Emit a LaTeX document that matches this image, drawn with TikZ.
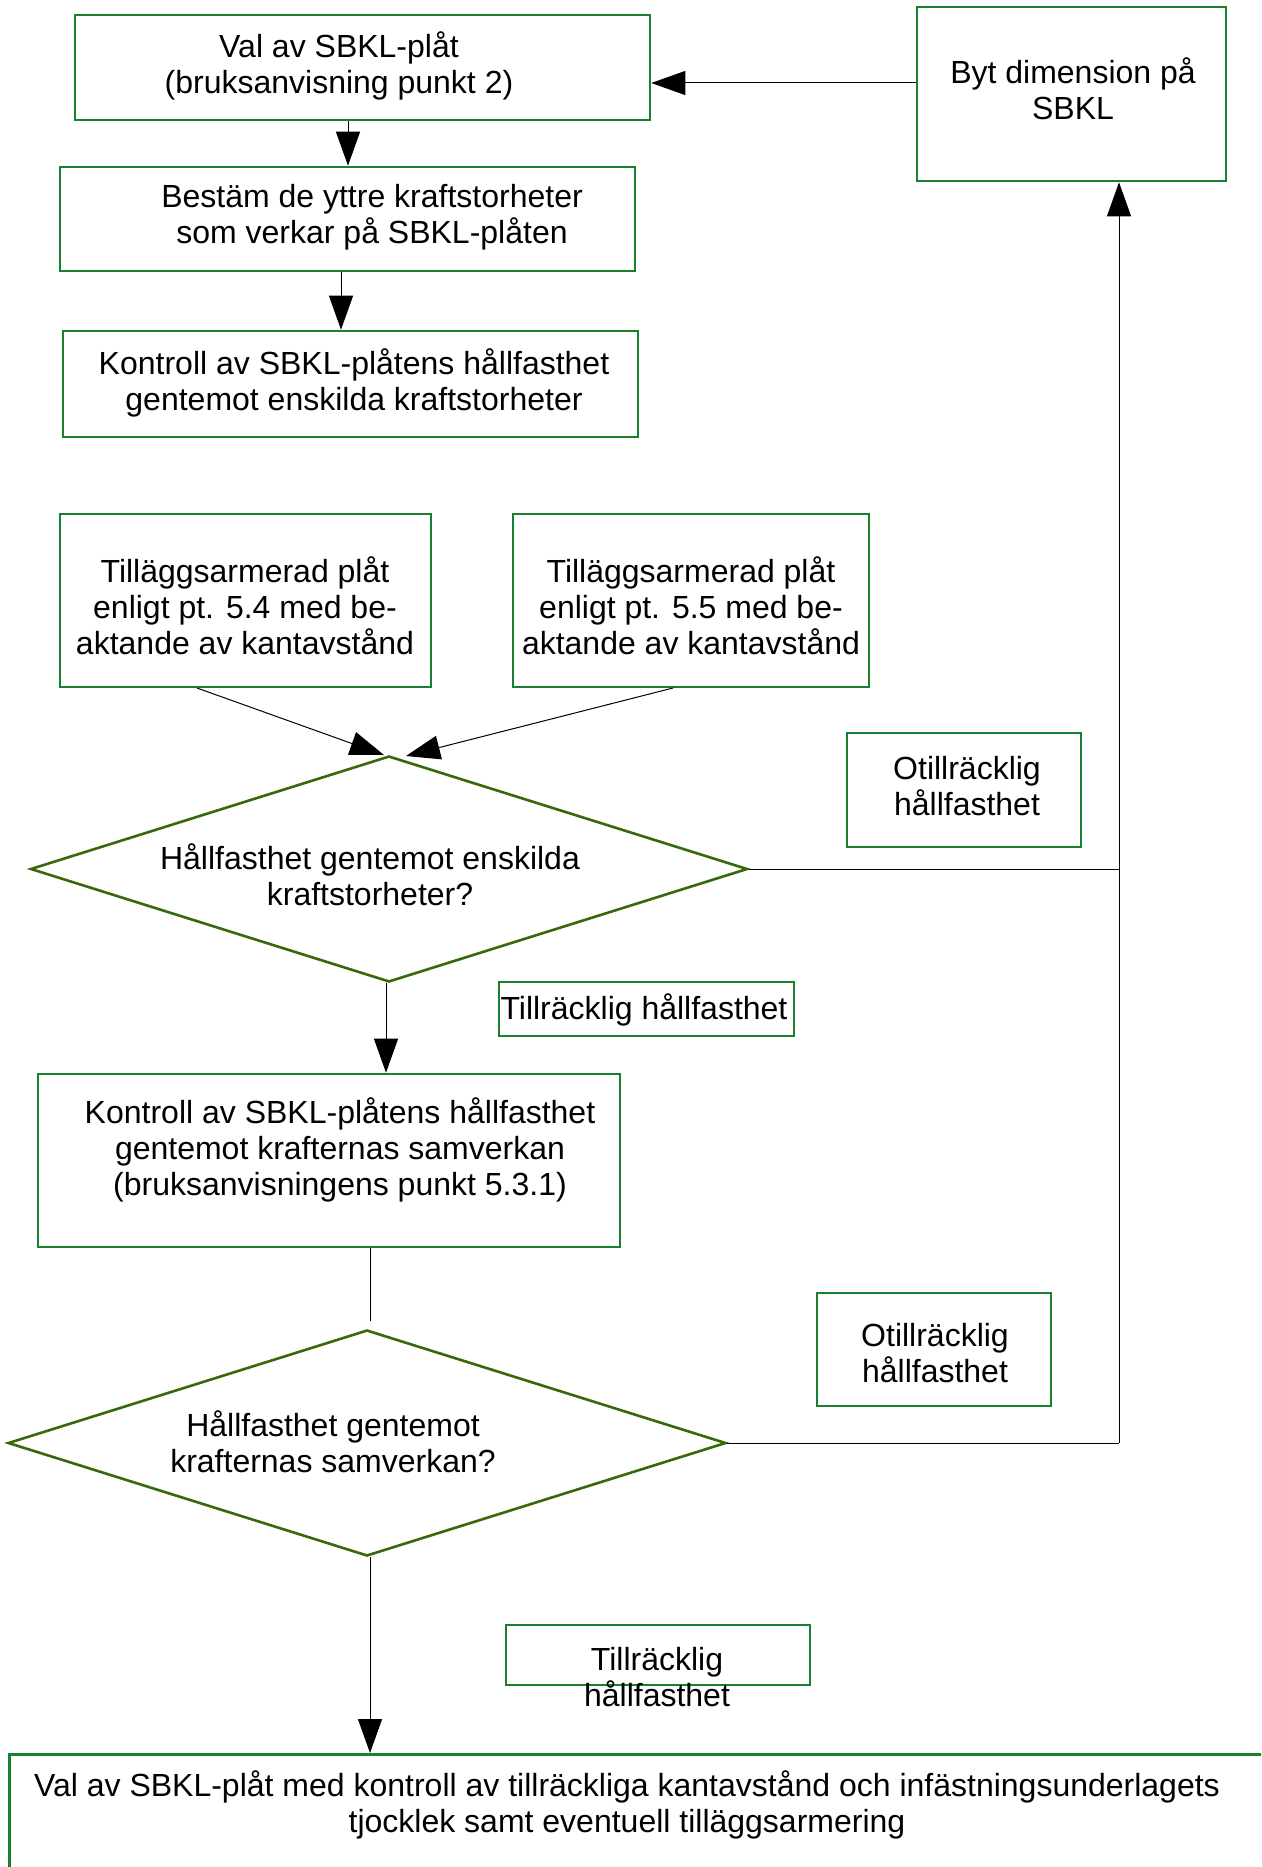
\documentclass[tikz,border=0pt]{standalone}
\usepackage{fontspec}
\setmainfont{Liberation Sans}
\usetikzlibrary{shapes.geometric,arrows.meta,calc}
\definecolor{boxgreen}{RGB}{25,128,45}
\definecolor{diagreen}{RGB}{55,105,10}
\tikzset{
  boxst/.style={draw=boxgreen, line width=2.6pt, inner sep=0pt, fill=white},
  diast/.style={draw=diagreen, line width=2.6pt, diamond, inner sep=0pt, fill=white},
  txt/.style={align=center, inner sep=0pt, font=\fontsize{32pt}{36pt}\selectfont},
  conn/.style={draw=black, line width=1pt},
  arr/.style={conn, -{Triangle[length=34pt,width=24pt]}}
}
\begin{document}
\begin{tikzpicture}[x=1pt,y=-1pt]
\clip (0,0) rectangle (1261,1867);
\fill[white] (0,0) rectangle (1261,1867);
% boxes
\node[boxst, minimum width=575pt, minimum height=105pt] (b1) at (362.5,67.5) {};
\node[txt] (t1) at (339,66) {Val av SBKL-plåt\\(bruksanvisning punkt 2)};
\node[boxst, minimum width=309pt, minimum height=174pt] (byt) at (1071.5,94) {};
\node[txt] (tbyt) at (1073,89) {Byt dimension på\\SBKL};
\node[boxst, minimum width=575pt, minimum height=104pt] (b2) at (347.5,219) {};
\node[txt] (t2) at (372,217) {Bestäm de yttre kraftstorheter\\som verkar på SBKL-plåten};
\node[boxst, minimum width=575pt, minimum height=106pt] (b3) at (350.5,384) {};
\node[txt] (t3) at (354,383) {Kontroll av SBKL-plåtens hållfasthet\\gentemot enskilda kraftstorheter};
\node[boxst, minimum width=371pt, minimum height=173pt] (b4) at (245.5,600.5) {};
\node[txt] (t4) at (245,606) {Tilläggsarmerad plåt\\enligt pt. 5.4 med be-\\aktande av kantavstånd};
\node[boxst, minimum width=356pt, minimum height=173pt] (b5) at (691,600.5) {};
\node[txt] (t5) at (691,606) {Tilläggsarmerad plåt\\enligt pt. 5.5 med be-\\aktande av kantavstånd};
% diamond 1
\node[diast, minimum width=717pt, minimum height=226pt] (d1) at (389,869) {};
\node[txt] (td1) at (370,875) {Hållfasthet gentemot enskilda\\kraftstorheter?};
\node[boxst, minimum width=234pt, minimum height=114pt] (o1) at (964,790) {};
\node[txt] (to1) at (967,786) {Otillräcklig\\hållfasthet};
\node[boxst, minimum width=295pt, minimum height=54pt] (s1) at (646.5,1009) {};
\node[txt] (ts1) at (644,1010) {Tillräcklig hållfasthet};
% box 6
\node[boxst, minimum width=582pt, minimum height=173pt] (b6) at (329,1160.5) {};
\node[txt] (t6) at (340,1150) {Kontroll av SBKL-plåtens hållfasthet\\gentemot krafternas samverkan\\(bruksanvisningens punkt 5.3.1)};
% diamond 2
\node[diast, minimum width=718pt, minimum height=226pt] (d2) at (367,1443) {};
\node[txt] (td2) at (333,1442) {Hållfasthet gentemot\\krafternas samverkan?};
\node[boxst, minimum width=234pt, minimum height=113pt] (o2) at (934,1349.5) {};
\node[txt] (to2) at (935,1353) {Otillräcklig\\hållfasthet};
\node[boxst, minimum width=304pt, minimum height=60pt] (s2) at (658,1655) {};
\node[txt] (ts2) at (657,1677) {Tillräcklig\\hållfasthet};
% final box (runs past the right and bottom edges)
\node[boxst, minimum width=1270pt, minimum height=150pt, anchor=north west] (fin) at (8,1753) {};
\node[txt] (tfin) at (627,1805) {Val av SBKL-plåt med kontroll av tillräckliga kantavstånd och infästningsunderlagets\\tjocklek samt eventuell tilläggsarmering};
% connector points
\coordinate (p1) at (348,0);
\coordinate (p2) at (341,0);
\coordinate (p3) at (386,0);
\coordinate (p4) at (370,0);
\coordinate (yb) at (0,83);
\coordinate (c1) at (1119,869);
\coordinate (c2) at (1119,1443);
\coordinate (q4) at (197,688);
\coordinate (q5) at (673,688);
\coordinate (h1) at (384,755);
\coordinate (h2) at (406,756);
% connectors
\draw[arr] (p1 |- b1.south) -- (p1 |- b2.north);
\draw[arr] (p2 |- b2.south) -- (p2 |- b3.north);
\draw[arr] (byt.west |- yb) -- (b1.east |- yb);
\draw[arr] (q4) -- (h1);
\draw[arr] (q5) -- (h2);
\draw[conn] (d1.east) -- (c1);
\draw[arr] (c2) -- (c2 |- byt.south);
\draw[conn] (d2.east) -- (c2);
\draw[arr] (p3 |- d1.south) -- (p3 |- b6.north);
\draw[conn] (p4 |- b6.south) -- ($(p4 |- d2.north)+(0,8pt)$);
\draw[arr] (p4 |- d2.south) -- (p4 |- fin.north);
\end{tikzpicture}
\end{document}
